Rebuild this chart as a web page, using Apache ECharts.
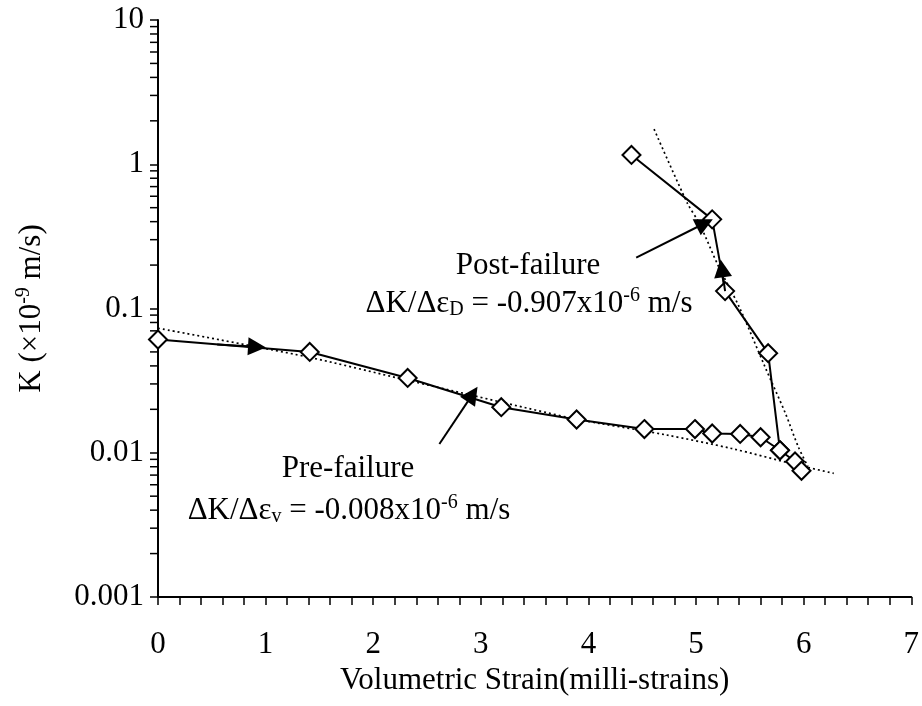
<!DOCTYPE html>
<html>
<head>
<meta charset="utf-8">
<script src="https://cdn.jsdelivr.net/npm/echarts@6/dist/echarts.min.js"></script>
<style>
  body { margin: 0; background: #fff; }
  #chart { width: 922px; height: 706px; }
</style>
</head>
<body>
<div id="chart"></div>
<script>
const FONT = "Liberation Serif";

// pre-failure test points (strain in milli-strains, K in 1e-9 m/s)
const strainPre = [0, 1.41, 2.32, 3.19, 3.89, 4.52, 4.99, 5.15, 5.41, 5.60, 5.78, 5.92, 5.98];
const kPre = [0.061, 0.050, 0.033, 0.0207, 0.0170, 0.0146, 0.0146, 0.0136, 0.0135, 0.0128, 0.0104, 0.0087, 0.0075];

// post-failure points, from the turn near 5.78 back up
const strainPost = [5.78, 5.67, 5.27, 5.15, 4.40];
const kPost = [0.0104, 0.049, 0.132, 0.415, 1.16];

// dotted trend lines
const strainTrendPre = [0, 1.38, 2.31, 3.85, 4.10, 4.72, 5.33, 5.95, 6.28];
const kTrendPre = [0.073, 0.0463, 0.0319, 0.0173, 0.0160, 0.0133, 0.0107, 0.0082, 0.0072];
const strainTrendPost = [4.61, 4.92, 5.03, 5.21, 5.40, 5.64, 5.83, 5.95, 6.04];
const kTrendPost = [1.75, 0.536, 0.39, 0.195, 0.103, 0.0395, 0.0188, 0.011, 0.008];

// minor ticks for the log axis
const yMinorTicks = [];
[0.001, 0.01, 0.1, 1].forEach(d => {
  for (let m = 2; m <= 9; m++) yMinorTicks.push(+(m * d).toPrecision(2));
});

// arrows: [from, to] in data coords
const arrows = [
  [[2.615, 0.0115], [2.923, 0.0254]],
  [[4.444, 0.225], [5.081, 0.390]],
  [[0.55, 0.0562], [0.92, 0.0542]],
  [[5.27, 0.132], [5.24, 0.190]],
];

const zip = (xs, ys) => xs.map((x, i) => [x, ys[i]]);

const chart = echarts.init(document.getElementById("chart"));

const black = "#000";
const LABEL_SIZE = 31;

const option = {
  animation: false,
  backgroundColor: "#fff",
  textStyle: { fontFamily: FONT, color: black },
  grid: { left: 158, right: 9, top: 20, bottom: 109 },
  xAxis: {
    type: "value",
    min: 0,
    max: 7,
    interval: 1,
    axisLine: { lineStyle: { color: black, width: 2 } },
    axisTick: { length: 8, lineStyle: { color: black, width: 1.5 } },
    minorTick: { show: true, splitNumber: 5, length: 8, lineStyle: { color: black, width: 1.5 } },
    splitLine: { show: false },
    axisLabel: { color: black, fontSize: LABEL_SIZE, fontFamily: FONT, margin: 32 },
    name: "Volumetric Strain(milli-strains)",
    nameLocation: "middle",
    nameGap: 62,
    nameTextStyle: { color: black, fontSize: LABEL_SIZE, fontFamily: FONT },
  },
  yAxis: {
    type: "log",
    logBase: 10,
    min: 0.001,
    max: 10,
    axisLine: { show: true, lineStyle: { color: black, width: 2 } },
    axisTick: { show: true, length: 8, lineStyle: { color: black, width: 1.5 } },
    splitLine: { show: false },
    axisLabel: {
      color: black,
      fontSize: LABEL_SIZE,
      fontFamily: FONT,
      margin: 14,
      formatter: v => String(+v.toPrecision(1)),
    },
    name: "K (×10{sup|-9} m/s)",
    nameLocation: "middle",
    nameGap: 108,
    nameTextStyle: {
      color: black,
      fontSize: LABEL_SIZE,
      fontFamily: FONT,
      rich: { sup: { fontSize: 20, fontFamily: FONT, color: black, padding: [0, 0, 16, 0] } },
    },
  },
  series: [
    {
      type: "custom",
      silent: true,
      clip: false,
      data: yMinorTicks.map(v => [0, v]),
      renderItem: (params, api) => {
        const p = api.coord([0, api.value(1)]);
        return {
          type: "line",
          shape: { x1: p[0] - 8, y1: p[1], x2: p[0], y2: p[1] },
          style: { stroke: black, lineWidth: 1.5 },
        };
      },
    },
    {
      type: "line",
      data: zip(strainTrendPre, kTrendPre),
      symbol: "none",
      smooth: 0.3,
      lineStyle: { color: black, width: 1.7, type: [2, 3] },
      z: 1,
    },
    {
      type: "line",
      data: zip(strainTrendPost, kTrendPost),
      symbol: "none",
      smooth: 0.3,
      lineStyle: { color: black, width: 1.7, type: [2, 3] },
      z: 1,
    },
    {
      type: "line",
      data: zip(strainPost, kPost),
      symbol: "diamond",
      symbolSize: 18,
      showAllSymbol: true,
      itemStyle: { color: "#fff", borderColor: black, borderWidth: 2 },
      lineStyle: { color: black, width: 2 },
      z: 3,
    },
    {
      type: "line",
      data: zip(strainPre, kPre),
      symbol: "diamond",
      symbolSize: 18,
      showAllSymbol: true,
      itemStyle: { color: "#fff", borderColor: black, borderWidth: 2 },
      lineStyle: { color: black, width: 2 },
      z: 3,
      markLine: {
        silent: true,
        symbol: ["none", "triangle"],
        symbolSize: 18,
        label: { show: false },
        lineStyle: { color: black, width: 2, type: "solid" },
        itemStyle: { color: black },
        data: arrows.map(([a, b]) => [
          { coord: a, symbol: "none" },
          { coord: b, symbol: "triangle", symbolSize: 18, itemStyle: { color: black } },
        ]),
      },
    },
  ],
  graphic: [
    {
      type: "text",
      x: 528, y: 266,
      style: { text: "Post-failure", fontSize: LABEL_SIZE, fontFamily: FONT, fill: black, align: "center", verticalAlign: "middle" },
    },
    {
      type: "text",
      x: 529, y: 304,
      style: {
        text: "ΔK/Δε{sub|D} = -0.907x10{sup|-6} m/s",
        fontSize: LABEL_SIZE, fontFamily: FONT, fill: black, align: "center", verticalAlign: "middle",
        rich: {
          sub: { fontSize: 20, fontFamily: FONT, fill: black, padding: [12, 0, 0, 0] },
          sup: { fontSize: 20, fontFamily: FONT, fill: black, padding: [0, 0, 16, 0] },
        },
      },
    },
    {
      type: "text",
      x: 348, y: 469,
      style: { text: "Pre-failure", fontSize: LABEL_SIZE, fontFamily: FONT, fill: black, align: "center", verticalAlign: "middle" },
    },
    {
      type: "text",
      x: 349, y: 511,
      style: {
        text: "ΔK/Δε{sub|v} = -0.008x10{sup|-6} m/s",
        fontSize: LABEL_SIZE, fontFamily: FONT, fill: black, align: "center", verticalAlign: "middle",
        rich: {
          sub: { fontSize: 20, fontFamily: FONT, fill: black, padding: [12, 0, 0, 0] },
          sup: { fontSize: 20, fontFamily: FONT, fill: black, padding: [0, 0, 16, 0] },
        },
      },
    },
  ],
};

chart.setOption(option);
</script>
</body>
</html>
